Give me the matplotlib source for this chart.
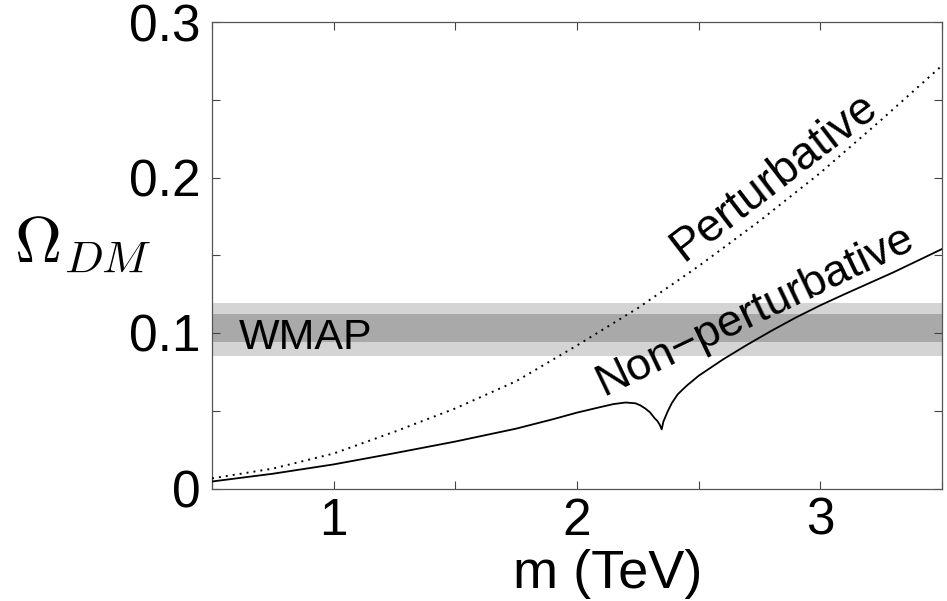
import matplotlib
matplotlib.use("Agg")
import matplotlib.pyplot as plt

# ---- data ----
m_pert = [0.5, 0.75, 1.0, 1.25, 1.5, 1.75, 2.0, 2.25, 2.5, 2.75, 3.0, 3.25, 3.5]
omega_pert = [0.0065, 0.0128, 0.0225, 0.0365, 0.0515, 0.069, 0.092, 0.116,
              0.143, 0.172, 0.203, 0.237, 0.272]

m_nonpert = [0.5, 0.75, 1.0, 1.25, 1.5, 1.75, 1.9, 2.0, 2.1, 2.15, 2.2, 2.24,
             2.26, 2.28, 2.30, 2.32, 2.33, 2.34, 2.348, 2.355, 2.373, 2.39,
             2.414, 2.45, 2.5, 2.6, 2.7, 2.8, 2.9, 3.0, 3.1, 3.2, 3.3, 3.4, 3.5]
omega_nonpert = [0.0045, 0.0095, 0.0155, 0.0227, 0.0302, 0.0385, 0.0445, 0.0488,
                 0.0525, 0.0543, 0.0553, 0.0548, 0.0535, 0.0515, 0.049, 0.045,
                 0.0435, 0.041, 0.038, 0.043, 0.0497, 0.055, 0.0606, 0.066,
                 0.0725, 0.0830, 0.0925, 0.1015, 0.1100, 0.1178, 0.125, 0.132,
                 0.139, 0.1465, 0.154]

wmap_inner = (0.094, 0.112)
wmap_outer = (0.085, 0.119)

xticks = [0.5, 1.0, 1.5, 2.0, 2.5, 3.0, 3.5]
xticklabels = ["", "1", "", "2", "", "3", ""]
yticks = [0, 0.05, 0.1, 0.15, 0.2, 0.25, 0.3]
yticklabels = ["0", "", "0.1", "", "0.2", "", "0.3"]

plt.rcParams['font.family'] = ['Liberation Sans', 'DejaVu Sans']
plt.rcParams['mathtext.fontset'] = 'cm'

fig = plt.figure(figsize=(9.47, 6.01), dpi=100)
ax = fig.add_axes([212/947, 1-488.5/601, (942-212)/947, (488.5-22)/601])

ax.axhspan(wmap_outer[0], wmap_outer[1], color='#d4d4d4', lw=0, zorder=0)
ax.axhspan(wmap_inner[0], wmap_inner[1], color='#a9a9a9', lw=0, zorder=1)

ax.plot(m_pert, omega_pert, color='black', lw=1.4, linestyle=(0, (1, 2.6)), zorder=3)
ax.plot(m_nonpert, omega_nonpert, color='black', lw=1.3, zorder=3)

ax.set_xlim(0.5, 3.5)
ax.set_ylim(0, 0.3)
ax.set_xticks(xticks)
ax.set_xticklabels(xticklabels)
ax.set_yticks(yticks)
ax.set_yticklabels(yticklabels)
ax.tick_params(direction='in', length=6, width=0.8, color='#444444',
               top=True, right=True, labelsize=37, pad=8)
ax.tick_params(axis='x', pad=6)
for s in ax.spines.values():
    s.set_color('#555555')
    s.set_linewidth(0.9)

ax.text(0.611, 0.090, "WMAP", fontsize=31, ha='left', va='baseline', zorder=4)
ax.text(2.81, 0.200, "Perturbative", fontsize=33, rotation=37.5,
        ha='center', va='center', rotation_mode='anchor', zorder=4)
ax.text(2.73, 0.114, "Non\u2212perturbative", fontsize=32.5, rotation=25.5,
        ha='center', va='center', rotation_mode='anchor', zorder=4)

fig.text(14/947, 1-262/601, r"$\Omega_{DM}$", fontsize=47, ha='left', va='baseline')
fig.text(608/947, 1-588/601, "m (TeV)", fontsize=39, ha='center', va='baseline')

fig.savefig("out.png", dpi=100)
